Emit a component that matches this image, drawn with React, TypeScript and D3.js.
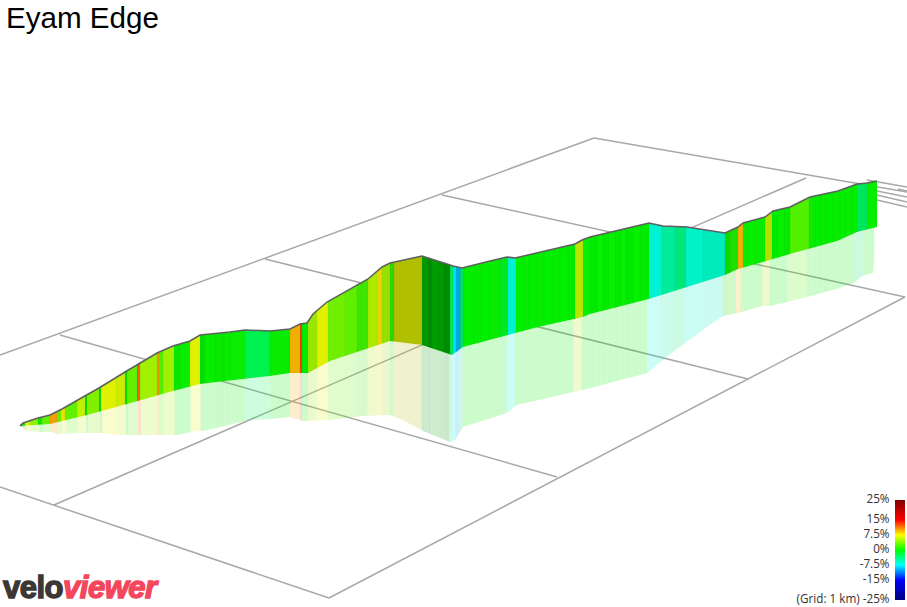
import { useEffect, useRef } from "react"
import * as d3 from "d3"

const WIDTH = 907
const HEIGHT = 607

// outline of the wall: distance along the view, height in the view
const topDist = [0, 3, 18, 30, 42, 63, 79, 105, 137, 153, 170, 180, 210, 225, 250, 270, 280, 287, 293, 307, 348, 362, 370, 402, 427, 433, 442, 470, 487, 495, 555, 562, 570, 629, 643, 667, 705, 718, 723, 745, 753, 770, 790, 818, 837, 847, 857]
const topElev = [181, 184, 189, 192, 198, 210, 219, 235, 254, 261, 266, 272, 275, 277, 276, 278, 283, 284, 293, 305, 328, 340, 344, 351, 343, 341, 339, 346, 350, 349, 363, 367, 370, 384, 381, 380, 374, 380, 384, 390, 396, 400, 410, 416, 423, 424, 426]

const baseDist = [0, 30, 67, 107, 153, 180, 197, 250, 270, 288, 310, 349, 370, 402, 432, 443, 518, 563, 570, 629, 705, 718, 743, 770, 817, 837, 857]
const baseElev = [181, 183, 192, 203, 216, 223, 225, 231, 234, 234, 246, 259, 266, 262, 252, 260, 280, 290, 293, 308, 332, 338, 345, 353, 366, 375, 380]

// lower edge of the reflection
const shadowDist = [0, 7, 23, 32, 37, 60, 80, 100, 120, 157, 177, 183, 213, 227, 250, 270, 283, 310, 342, 370, 383, 403, 430, 435, 443, 487, 497, 553, 563, 627, 653, 687, 703, 718, 742, 750, 787, 820, 835, 842, 853]
const shadowElev = [181, 176, 175, 175, 173, 174, 174, 172, 172, 172, 176, 176, 183, 187, 188, 190, 186, 187, 191, 192, 187, 176, 165, 167, 180, 194, 202, 215, 217, 234, 255, 280, 291, 294, 301, 301, 310, 319, 325, 331, 334]

// gradient bands: where each one ends, its gradient in %, and how lit that face is
const bandEnd = [2, 5, 10, 18, 22, 30, 37, 41, 45, 57, 65, 67, 79, 81, 96, 105, 107, 117, 120, 137, 139, 143, 154, 160, 170, 180, 183, 185, 195, 204, 210, 225, 250, 270, 280, 282, 288, 297, 308, 325, 337, 348, 357, 362, 370, 374, 402, 408, 412, 418, 424, 430, 433, 436, 440, 444, 454, 461, 469, 480, 488, 496, 503, 509, 516, 524, 533, 540, 548, 555, 563, 570, 577, 583, 589, 595, 601, 606, 613, 620, 629, 642, 655, 666, 683, 705, 710, 718, 723, 728, 735, 745, 752, 758, 764, 770, 789, 795, 800, 806, 813, 820, 825, 832, 837, 847, 857]
const bandGrade = [15, 0.5, 7, 4.5, 0.5, 3, 10, 3, 8, 3, 6, 0.5, 4, 0.5, 7, 6.5, 0.5, 3, 12, 5, 10, 2.5, 5, 0.3, 0.3, 7, 0, 0.3, 0.2, 0.3, 0.2, 0.3, -2.5, 0.3, 9.5, 13, 0, 5, 7, 3.5, 3, 2, 5.5, 8.5, 5, 1.5, 6.9, 0, 0, 0, 0, 0, -3, -8, -9.5, -4, 0, 0.2, 0, 0.2, -1, -6.5, 0, 0.2, 0, 0.2, 0, 0.2, 0, 0.2, 6, 0.2, 0, 0.2, 0, 0.2, 0, 0.2, 0, 0.2, 0, -6.5, -5, -4, -6.2, -6, 0.5, 1, 9.5, 0.3, 0.2, 0.3, 6, 0, 0.2, 0, 2.5, 0.3, 0, 0.3, 0, 0.3, 0, 0.3, 0, -3, 0.2]
const bandShade = [0.9, 0.9, 0.94, 0.94, 0.9, 0.94, 0.94, 0.94, 0.94, 0.94, 0.94, 0.85, 0.94, 0.85, 0.94, 0.92, 0.85, 0.94, 0.94, 0.94, 0.92, 0.94, 0.94, 0.9, 0.93, 0.94, 0.88, 0.9, 0.93, 0.9, 0.92, 0.93, 0.95, 0.92, 0.94, 0.94, 0.92, 0.9, 0.94, 0.94, 0.93, 0.9, 0.92, 0.94, 0.88, 0.85, 0.75, 0.6, 0.55, 0.62, 0.6, 0.55, 0.9, 0.95, 0.9, 0.85, 0.94, 0.92, 0.94, 0.92, 0.9, 0.95, 0.94, 0.92, 0.94, 0.92, 0.94, 0.92, 0.94, 0.92, 0.9, 0.94, 0.92, 0.94, 0.92, 0.94, 0.92, 0.94, 0.92, 0.94, 0.92, 0.95, 0.92, 0.9, 0.95, 0.92, 0.85, 0.88, 0.94, 0.92, 0.94, 0.92, 0.88, 0.92, 0.94, 0.92, 0.94, 0.92, 0.94, 0.92, 0.94, 0.92, 0.94, 0.92, 0.94, 0.9, 0.93]

// ground grid, each line as [dist, height, dist, height]
const gridLines = [
  [-20, 252, 574, 469],
  [-20, 120, 309, 9],
  [309, 9, 885, 310],
  [34, 102, 786, 429],
  [40, 272, 537, 130],
  [245, 348, 728, 228],
  [422, 412, 885, 310],
  [574, 469, 887, 415],
  [847, 427, 887, 420],
  [857, 416, 887, 410],
  [857, 412, 887, 405],
  [857, 407, 887, 400],
  [878, 418, 887, 416],
]

const gradeStops = [25, 15, 7.5, 0, -7.5, -15, -25]
const gradeColors = ["#7f0000", "#ff0000", "#ffff00", "#00ff00", "#00ffff", "#0000ff", "#00007f"]
const legendTicks = [25, 15, 7.5, 0, -7.5, -15, -25]

export default function App() {
  const svgRef = useRef<SVGSVGElement>(null)

  useEffect(() => {
    if (!svgRef.current) return
    const svg = d3.select(svgRef.current)
    svg.selectAll("*").remove()

    const x = d3.scaleLinear().domain([0, 857]).range([20, 877])
    // reflection leans a little against the wall, so its bands sit a bit apart
    const xShadow = d3.scaleLinear().domain([0, 857]).range([21.5, 874])
    const y = d3.scaleLinear().domain([0, HEIGHT]).range([HEIGHT, 0])

    const color = d3
      .scaleLinear<string>()
      .domain(gradeStops)
      .range(gradeColors)
      .interpolate(d3.interpolateRgb)

    const bandColor = (i: number) => {
      const c = d3.rgb(color(bandGrade[i]))
      const s = bandShade[i]
      return d3.rgb(c.r * s, c.g * s, c.b * s).formatHex()
    }

    const line = d3.line<[number, number]>()
    const zip = (a: number[], b: number[]) => a.map((d, i) => [x(d), y(b[i])] as [number, number])

    const topPts = zip(topDist, topElev)
    const basePts = zip(baseDist, baseElev)
    const shadowPts = zip(shadowDist, shadowElev)

    const defs = svg.append("defs")
    defs
      .append("clipPath")
      .attr("id", "wall-clip")
      .append("path")
      .attr("d", line([...topPts, ...[...basePts].reverse()]))
    defs
      .append("clipPath")
      .attr("id", "shadow-clip")
      .append("path")
      .attr("d", line([...shadowPts, ...[...basePts].reverse()]))

    // grid
    svg
      .append("g")
      .selectAll("line")
      .data(gridLines)
      .enter()
      .append("line")
      .attr("x1", (d) => x(d[0]))
      .attr("y1", (d) => y(d[1]))
      .attr("x2", (d) => x(d[2]))
      .attr("y2", (d) => y(d[3]))
      .attr("stroke", "#a8a8a8")
      .attr("stroke-width", 1.5)

    // reflection
    svg
      .append("g")
      .attr("clip-path", "url(#shadow-clip)")
      .attr("opacity", 0.2)
      .selectAll("rect")
      .data(bandEnd)
      .enter()
      .append("rect")
      .attr("x", (d, i) => xShadow(i ? bandEnd[i - 1] : 0))
      .attr("y", y(HEIGHT))
      .attr("width", (d, i) => xShadow(d) - xShadow(i ? bandEnd[i - 1] : 0) + 0.3)
      .attr("height", HEIGHT)
      .attr("fill", (d, i) => bandColor(i))

    // wall
    const wall = svg.append("g").attr("clip-path", "url(#wall-clip)")
    wall
      .selectAll("rect")
      .data(bandEnd)
      .enter()
      .append("rect")
      .attr("x", (d, i) => x(i ? bandEnd[i - 1] : 0))
      .attr("y", y(HEIGHT))
      .attr("width", (d, i) => x(d) - x(i ? bandEnd[i - 1] : 0) + 0.3)
      .attr("height", HEIGHT)
      .attr("fill", (d, i) => bandColor(i))
      .attr("stroke", "#000")
      .attr("stroke-opacity", 0.08)
      .attr("stroke-width", 0.5)

    // top edge
    svg
      .append("path")
      .attr("d", line(topPts))
      .attr("fill", "none")
      .attr("stroke", "#5f5f5f")
      .attr("stroke-width", 1.5)

    // title
    svg
      .append("text")
      .attr("x", 6)
      .attr("y", 28)
      .attr("font-family", "Liberation Sans")
      .attr("font-size", 29.6)
      .attr("fill", "#000")
      .text("Eyam Edge")

    // legend
    const legendY = d3.scaleLinear().domain([25, -25]).range([500, 600])
    const grad = defs
      .append("linearGradient")
      .attr("id", "grade-bar")
      .attr("x1", 0)
      .attr("y1", 0)
      .attr("x2", 0)
      .attr("y2", 1)
    gradeStops.forEach((g, i) => {
      grad
        .append("stop")
        .attr("offset", (25 - g) / 50)
        .attr("stop-color", gradeColors[i])
    })
    svg
      .append("rect")
      .attr("x", 895)
      .attr("y", legendY(25))
      .attr("width", 10)
      .attr("height", legendY(-25) - legendY(25))
      .attr("fill", "url(#grade-bar)")

    svg
      .append("g")
      .selectAll("text")
      .data(legendTicks)
      .enter()
      .append("text")
      .attr("x", 889.5)
      .attr("y", (d) => legendY(d) + 3)
      .attr("text-anchor", "end")
      .attr("font-family", "Open Sans")
      .attr("font-size", 11.7)
      .attr("fill", "#333")
      .text((d) => (d === -25 ? `(Grid: 1 km) ${d}%` : `${d}%`))

    // logo
    const logo = svg
      .append("text")
      .attr("x", 3)
      .attr("y", 598)
      .attr("font-family", "Liberation Sans")
      .attr("font-weight", "bold")
      .attr("font-size", 31)
      .attr("letter-spacing", -0.5)
      .attr("stroke-width", 1.4)
    logo.append("tspan").attr("fill", "#3b3735").attr("stroke", "#3b3735").text("velo")
    logo.append("tspan").attr("fill", "#f4465c").attr("stroke", "#f4465c").attr("font-style", "italic").text("viewer")
  }, [])

  return (
    <svg
      ref={svgRef}
      width={WIDTH}
      height={HEIGHT}
      style={{ position: "absolute", left: 0, top: 0, display: "block", background: "#fff" }}
    />
  )
}
